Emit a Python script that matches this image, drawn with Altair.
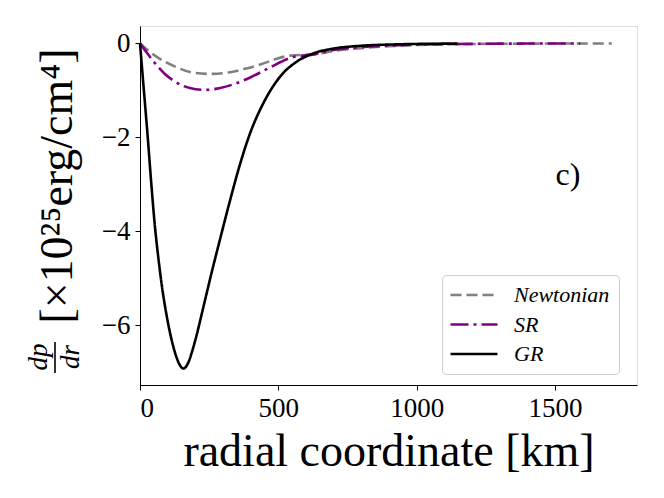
import altair as alt
import pandas as pd

# ---- data ----
gr_r = [0, 14, 28, 41, 54, 66, 80, 95, 110, 125, 140, 157, 174, 190, 205, 223, 240, 255, 287, 325, 361, 398, 446, 506, 566, 603, 633, 700, 800, 900, 1000, 1147]
gr_v = [0, -1.0, -2.0, -3.0, -3.9, -4.55, -5.2, -5.75, -6.2, -6.55, -6.8, -6.92, -6.8, -6.52, -6.2, -5.76, -5.34, -4.97, -4.22, -3.35, -2.58, -1.91, -1.27, -0.71, -0.39, -0.27, -0.2, -0.11, -0.05, -0.025, -0.012, -0.004]

sr_r = [0, 25, 54, 90, 118, 180, 235, 290, 343, 400, 464, 548, 633, 700, 800, 900, 1000, 1200, 1400, 1591]
sr_v = [0, -0.2, -0.42, -0.65, -0.78, -0.95, -0.99, -0.95, -0.86, -0.72, -0.53, -0.3, -0.23, -0.14, -0.08, -0.045, -0.025, -0.01, -0.004, -0.001]

nw_r = [0, 54, 125, 190, 253, 320, 380, 440, 488, 542, 633, 700, 800, 900, 1000, 1200, 1400, 1705]
nw_v = [0, -0.26, -0.49, -0.62, -0.65, -0.62, -0.54, -0.44, -0.34, -0.26, -0.23, -0.16, -0.1, -0.06, -0.035, -0.013, -0.005, -0.001]

series = ["Newtonian", "SR", "GR"]
colors = ["#808080", "#800080", "#000000"]
dashes = [[11, 5], [18, 5, 3, 5], [1, 0]]
x_ticks = [0, 500, 1000, 1500]
y_ticks = [0, -2, -4, -6]

rows = []
for name, rs, vs in [("Newtonian", nw_r, nw_v), ("SR", sr_r, sr_v), ("GR", gr_r, gr_v)]:
    for i, (r, v) in enumerate(zip(rs, vs)):
        rows.append({"r": r, "v": v, "model": name, "i": i})
df = pd.DataFrame(rows)

FONT = "Liberation Serif"

lines = alt.Chart(df).mark_line(strokeWidth=2.6, interpolate="monotone").encode(
    x=alt.X("r:Q", scale=alt.Scale(domain=[0, 1796], nice=False, zero=False),
            axis=alt.Axis(values=x_ticks, title="radial coordinate [km]", grid=False,
                          format="d",
                          tickColor="#000", domainColor="#000", tickSize=5,
                          labelFontSize=27, labelFont=FONT, labelColor="#000",
                          labelPadding=5, titleFont=FONT, titleFontSize=46,
                          titleFontWeight="normal", titleColor="#000", titlePadding=8)),
    y=alt.Y("v:Q", scale=alt.Scale(domain=[-7.27, 0.37], nice=False, zero=False),
            axis=alt.Axis(values=y_ticks, title=None, grid=False, format="d",
                          tickColor="#000", domainColor="#000", tickSize=5,
                          labelFontSize=27, labelFont=FONT, labelColor="#000",
                          labelPadding=5)),
    color=alt.Color("model:N", scale=alt.Scale(domain=series, range=colors),
                    legend=alt.Legend(title=None, orient="none", legendX=302, legendY=249,
                                      fillColor="white", strokeColor="#cccccc",
                                      cornerRadius=4, padding=9,
                                      labelFont=FONT, labelFontSize=22,
                                      labelFontStyle="italic", labelColor="#000",
                                      symbolType="M-3,0L3,0", symbolSize=245,
                                      symbolStrokeWidth=2.6, symbolOffset=12,
                                      labelOffset=29, rowPadding=7.5)),
    strokeDash=alt.StrokeDash("model:N", scale=alt.Scale(domain=series, range=dashes)),
    order="i:Q",
)

ann = pd.DataFrame({"a": [0]})
base = alt.Chart(ann)

ylab = base.mark_text(text="[×10²⁵erg/cm⁴]", angle=270, font=FONT, fontSize=46,
                      align="center", baseline="middle", color="#000").encode(
    x=alt.value(-82), y=alt.value(160))
num = base.mark_text(text="dp", angle=270, font=FONT, fontSize=27, fontStyle="italic",
                     align="center", baseline="middle", color="#000").encode(
    x=alt.value(-101), y=alt.value(331))
den = base.mark_text(text="dr", angle=270, font=FONT, fontSize=27, fontStyle="italic",
                     align="center", baseline="middle", color="#000").encode(
    x=alt.value(-69), y=alt.value(331))
bar = base.mark_rule(strokeWidth=1.6, color="#000").encode(
    x=alt.value(-85), y=alt.value(316), y2=alt.value(347))
clabel = base.mark_text(text="c)", font=FONT, fontSize=32, align="center",
                        baseline="middle", color="#000").encode(
    x=alt.value(428), y=alt.value(149))

chart = alt.layer(lines, ylab, num, den, bar, clabel).properties(
    width=497, height=359,
    autosize=alt.AutoSizeParams(type="none"),
    padding={"left": 132, "top": 18, "right": 19, "bottom": 105},
).configure_view(stroke="#222", strokeWidth=1.2).configure(background="white")

chart.save("out.html", embed_options={"renderer": "svg", "actions": False})
